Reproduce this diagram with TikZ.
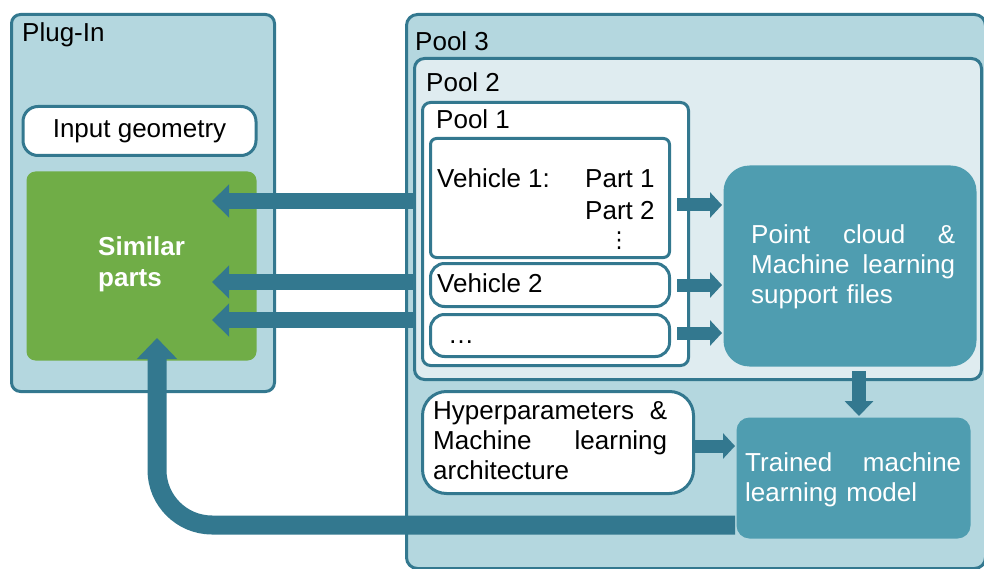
\documentclass[tikz,border=0pt]{standalone}
\usepackage{fontspec}
\setmainfont{Liberation Sans}
\newfontfamily\dotsfont{DejaVu Sans}
\usetikzlibrary{arrows.meta}
\definecolor{PoolLine}{HTML}{33788F}
\definecolor{PoolFill}{HTML}{B4D7DF}
\definecolor{PoolPale}{HTML}{DFECF0}
\definecolor{CloudFill}{HTML}{4F9DB0}
\definecolor{PartGreen}{HTML}{70AD47}

\begin{document}
\begin{tikzpicture}[
			x = 1pt, y = -1pt,
			font = \fontsize{26}{30}\selectfont,
			MyBox/.style={draw=PoolLine, line width=3pt, rounded corners=9pt,
				anchor=north west, inner sep=0pt},
			MyText/.style={anchor=base west, inner sep=0pt},
			MyPara/.style={anchor=north west, inner sep=0pt, align=left},
			FatArrow/.style={PoolLine, line width=16pt, -{Triangle[length=17pt, width=32pt]}},
			SlimArrow/.style={PoolLine, line width=13pt, -{Triangle[length=12pt, width=25pt]}},
			]
			\useasboundingbox (0,0) rectangle (984,569);
			% left side
			\node [MyBox, fill=PoolFill, minimum width=263pt, minimum height=377pt] (plugin) at (10,13) {};
			\node [MyText] (pluginlbl) at (22,42) {Plug-In};
			\node [MyBox, fill=white, rounded corners=15pt, anchor=center,
				minimum width=233pt, minimum height=49pt] (input) at (139.5,131) {Input geometry};
			\node [MyBox, draw=none, fill=PartGreen, minimum width=230pt, minimum height=189pt] (similar) at (25,170) {};
			\node [anchor=north west, inner sep=0pt, align=left, text=white,
				font=\fontsize{26}{31}\selectfont\bfseries] (similarlbl) at (98,236) {Similar\\parts};
			% pools
			\node [MyBox, fill=PoolFill, rounded corners=11pt, minimum width=579pt, minimum height=554pt] (pool3) at (405,13) {};
			\node [MyText] (pool3lbl) at (415,51) {Pool 3};
			\node [MyBox, fill=PoolPale, rounded corners=10pt, minimum width=567pt, minimum height=321pt] (pool2) at (413,57) {};
			\node [MyText] (pool2lbl) at (426,92) {Pool 2};
			\node [MyBox, fill=white, rounded corners=8pt, minimum width=266pt, minimum height=263pt] (pool1) at (421,101) {};
			\node [MyText] (pool1lbl) at (436,129) {Pool 1};
			\node [MyBox, fill=white, rounded corners=6pt, minimum width=239pt, minimum height=119pt] (veh1) at (429,137) {};
			\node [MyText] (veh1lbl) at (437,188) {Vehicle 1:};
			\node [MyText] (part1) at (585,188) {Part 1};
			\node [MyText] (part2) at (585,220) {Part 2};
			\node [anchor=south, inner sep=0pt, font=\dotsfont\fontsize{22}{22}\selectfont] (partdots) at (619,250) {⋮};
			\node [MyBox, fill=white, rounded corners=14pt, minimum width=239pt, minimum height=43pt] (veh2) at (429,262) {};
			\node [MyText] (veh2lbl) at (437,292) {Vehicle 2};
			\node [MyBox, fill=white, rounded corners=14pt, minimum width=239pt, minimum height=42pt] (vehn) at (429,313) {};
			\node [MyText] (vehnlbl) at (448,343) {\ldots};
			\node [MyBox, draw=none, fill=CloudFill, rounded corners=26pt, minimum width=253pt, minimum height=201pt] (cloud) at (722,164) {};
			\node [MyPara, text=white, text width=204pt] (cloudlbl) at (751,224)
				{Point\hfill cloud\hfill\&\\Machine\hfill learning\\support files};
			\node [MyBox, fill=white, rounded corners=24pt, minimum width=271pt, minimum height=102pt] (hyper) at (421,390) {};
			\node [MyPara, text width=234pt] (hyperlbl) at (433,401)
				{Hyperparameters\hfill\&\\Machine\hfill learning\\architecture};
			\node [MyBox, draw=none, fill=CloudFill, rounded corners=13pt, minimum width=234pt, minimum height=121pt] (model) at (735,416) {};
			\node [MyPara, text=white, text width=216pt] (modellbl) at (745,452)
				{Trained\hfill machine\\learning model};
			% connectors
			\coordinate (in1) at (212,201);
			\coordinate (in2) at (212,282);
			\coordinate (in3) at (212,320);
			\draw [FatArrow] (pool2.west |- in1) -- (in1);
			\draw [FatArrow] (pool2.west |- in2) -- (in2);
			\draw [FatArrow] (pool2.west |- in3) -- (in3);
			\coordinate (out1) at (677,205);
			\coordinate (out2) at (677,285);
			\coordinate (out3) at (677,333);
			\draw [SlimArrow] (out1) -- (cloud.west |- out1);
			\draw [SlimArrow] (out2) -- (cloud.west |- out2);
			\draw [SlimArrow] (out3) -- (cloud.west |- out3);
			\coordinate (down) at (859,371);
			\draw [PoolLine, line width=14pt, -{Triangle[length=15pt, width=28pt]}] (down) -- (down |- model.north);
			\coordinate (hyp) at (692,446);
			\draw [SlimArrow] (hyp) -- (model.west |- hyp);
			\coordinate (back) at (735,525);
			\coordinate (up) at (157,338);
			\draw [PoolLine, line width=19pt, rounded corners=55pt, -{Triangle[length=21pt, width=39pt]}]
				(back) -- (up |- back) -- (up);
		\end{tikzpicture}
\end{document}
